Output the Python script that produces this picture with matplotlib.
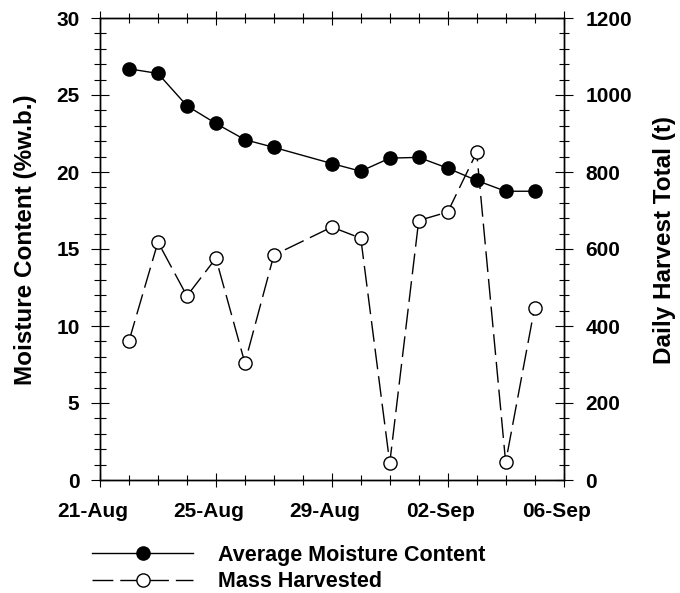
import matplotlib
matplotlib.use('Agg')
import matplotlib.pyplot as plt
import matplotlib.dates as mdates
import matplotlib.transforms as mtransforms
from matplotlib.lines import Line2D
import pandas as pd

plt.rcParams['font.family'] = ['Liberation Sans', 'DejaVu Sans']
plt.rcParams['font.weight'] = 'bold'

# Data
dates = ['2013-08-22', '2013-08-23', '2013-08-24', '2013-08-25', '2013-08-26',
         '2013-08-27', '2013-08-29', '2013-08-30', '2013-08-31', '2013-09-01',
         '2013-09-02', '2013-09-03', '2013-09-04', '2013-09-05']
moisture = [26.7, 26.4, 24.3, 23.15, 22.1, 21.6, 20.55, 20.05, 20.9, 20.95,
            20.25, 19.45, 18.75, 18.75]
mass = [361, 618, 478, 576, 304, 584, 657, 628, 44, 674, 696, 851, 46, 448]

tick_dates = ['2013-08-21', '2013-08-25', '2013-08-29', '2013-09-02', '2013-09-06']

x = pd.to_datetime(dates)
xt = pd.to_datetime(tick_dates)

fig = plt.figure(figsize=(6.8, 5.93), dpi=100)
ax = fig.add_axes([100 / 680, 1 - 480 / 593, 463.6 / 680, 462 / 593])
ax2 = ax.twinx()

# moisture on the left axis
ax.plot(x, moisture, color='black', lw=1.0, marker='o', ms=9.5,
        mfc='black', mec='black', zorder=3)

# mass harvested on the right axis
ax2.plot(x, mass, color='black', lw=1.0, dashes=(15, 5), marker='o', ms=9.5,
         mfc='white', mec='black', mew=1.0, zorder=3)

ax.set_xlim(xt[0], xt[-1])
ax.set_ylim(0, 30)
ax2.set_ylim(0, 1200)

ax.set_xticks(xt)
ax.xaxis.set_major_formatter(mdates.DateFormatter('%d-%b'))
ax.xaxis.set_minor_locator(mdates.DayLocator())
ax.set_yticks(range(0, 31, 5))
ax.set_yticks(range(0, 31, 1), minor=True)
ax2.set_yticks(range(0, 1201, 200))
ax2.set_yticks(range(0, 1201, 40), minor=True)

for a in (ax, ax2):
    for s in a.spines.values():
        s.set_linewidth(1.0)

ax.tick_params(axis='x', which='major', direction='inout', length=9.5, width=0.8,
               labelsize=15, pad=11, top=True)
ax.tick_params(axis='x', which='minor', direction='inout', length=6.5, width=0.8, top=True)
ax.tick_params(axis='y', which='major', direction='inout', length=13.5, width=0.8,
               labelsize=15, pad=8)
ax.tick_params(axis='y', which='minor', direction='inout', length=8, width=0.8)
ax2.tick_params(axis='y', which='major', direction='inout', length=13, width=0.8,
                labelsize=15, pad=9)
ax2.tick_params(axis='y', which='minor', direction='inout', length=7.5, width=0.8)

ax.set_ylabel('Moisture Content (%w.b.)', fontsize=17.5, fontweight='bold')
ax.yaxis.set_label_coords(-0.136, 0.52)
ax2.set_ylabel('Daily Harvest Total (t)', fontsize=17.5, fontweight='bold')
ax2.yaxis.set_label_coords(1.193, 0.52)

# date labels sit a little left of their ticks in the original
shift = mtransforms.ScaledTranslation(-5 / 72, 0, fig.dpi_scale_trans)
for lab in ax.get_xticklabels():
    lab.set_transform(lab.get_transform() + shift)

handles = [
    Line2D([], [], color='black', lw=1.0, marker='o', ms=9.5, mfc='black', mec='black'),
    Line2D([], [], color='black', lw=1.0, dashes=(15, 5), marker='o', ms=9.5,
           mfc='white', mec='black'),
]
fig.legend(handles, ['Average Moisture Content', 'Mass Harvested'],
           loc='upper left', bbox_to_anchor=(92 / 680, 1 - 545 / 593),
           frameon=False, fontsize=15.5, handlelength=4.7, handletextpad=1.15,
           labelspacing=0.25, borderpad=0, borderaxespad=0)

fig.savefig('out.png', dpi=100)
